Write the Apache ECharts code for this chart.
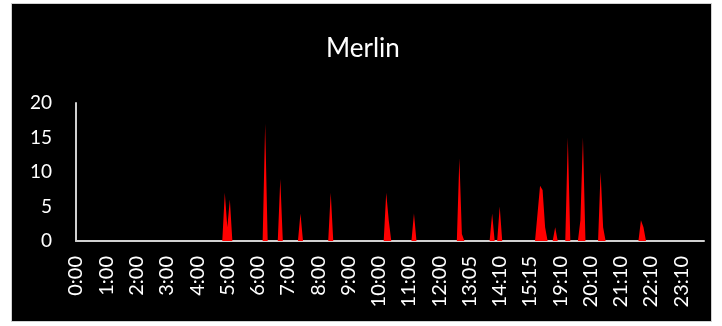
<!DOCTYPE html>
<html>
<head>
<meta charset="utf-8">
<script src="https://cdn.jsdelivr.net/npm/echarts@6/dist/echarts.min.js"></script>
<style>
  html, body { margin: 0; padding: 0; background: #ffffff; }
  #frame { position: absolute; left: 11px; top: 3px; width: 701px; height: 319px; box-sizing: border-box; background: #000000; border: 1px solid #d0d0d0; }
  #chart { position: absolute; left: 0; top: 0; width: 722px; height: 326px; }
</style>
</head>
<body>
<div id="frame"></div>
<div id="chart"></div>
<script>
// Title
const chartTitle = "Merlin";

// Time segments (5-minute samples, some times missing in the record)
const timeSegments = [
  ["0:00", 156],   // start, count
  ["13:05", 12],
  ["14:10", 12],
  ["15:15", 12],
  ["19:10", 58]
];

// Y-axis ticks
const yMin = 0, yMax = 20, yStep = 5;

// Values per 5-minute sample (rows of 12 samples)
const values = [
  0,0,0,0,0,0,0,0,0,0,0,0,
  0,0,0,0,0,0,0,0,0,0,0,0,
  0,0,0,0,0,0,0,0,0,0,0,0,
  0,0,0,0,0,0,0,0,0,0,0,0,
  0,0,0,0,0,0,0,0,0,0,0,7,
  2,6,0,0,0,0,0,0,0,0,0,0,
  0,0,0,17,0,0,0,0,0,9,0,0,
  0,0,0,0,0,4,0,0,0,0,0,0,
  0,0,0,0,0,7,0,0,0,0,0,0,
  0,0,0,0,0,0,0,0,0,0,0,0,
  0,0,0,7,3,0,0,0,0,0,0,0,
  0,0,4,0,0,0,0,0,0,0,0,0,
  0,0,0,0,0,0,0,0,12,1,0,0,
  0,0,0,0,0,0,0,0,0,4,0,0,
  5,0,0,0,0,0,0,0,0,0,0,0,
  0,0,0,4,8,7.4,2,0,0,0,2,0,
  0,0,0,15,0,0,0,0,3,15,0,0,
  0,0,0,0,10,2,0,0,0,0,0,0,
  0,0,0,0,0,0,0,0,3,2,0,0,
  0,0,0,0,0,0,0,0,0,0,0,0,
  0,0,0,0,0,0,0,0,0,0
];

function buildCategories(segs) {
  const out = [];
  segs.forEach(s => {
    const [h, m] = s[0].split(":").map(Number);
    let t = h * 60 + m;
    for (let i = 0; i < s[1]; i++) {
      const hh = Math.floor(t / 60), mm = t % 60;
      out.push(hh + ":" + (mm < 10 ? "0" : "") + mm);
      t += 5;
    }
  });
  return out;
}
const categories = buildCategories(timeSegments);

const FONT = "Lato, 'Open Sans', sans-serif";
const chart = echarts.init(document.getElementById("chart"), null, { renderer: "canvas" });
chart.setOption({
  backgroundColor: "transparent",
  animation: false,
  title: {
    text: chartTitle,
    left: 321,
    top: 31,
    textStyle: { color: "#ffffff", fontFamily: FONT, fontSize: 26, fontWeight: "normal" }
  },
  grid: { left: 76, right: 18, top: 103, bottom: 85, containLabel: false },
  xAxis: {
    type: "category",
    data: categories,
    boundaryGap: false,
    axisLine: { show: true, lineStyle: { color: "#d0d0d0", width: 2 } },
    axisTick: { show: false },
    splitLine: { show: false },
    axisLabel: {
      interval: 11,
      rotate: 90,
      margin: 15,
      color: "#ffffff",
      fontFamily: FONT,
      fontSize: 20
    }
  },
  yAxis: {
    type: "value",
    min: yMin,
    max: yMax,
    interval: yStep,
    axisLine: { show: true, lineStyle: { color: "#d0d0d0", width: 2 } },
    axisTick: { show: false },
    splitLine: { show: false },
    axisLabel: { color: "#ffffff", fontFamily: FONT, fontSize: 19, margin: 24 }
  },
  series: [{
    type: "line",
    data: values,
    symbol: "none",
    smooth: false,
    lineStyle: { width: 0, color: "#ff0000" },
    itemStyle: { color: "#ff0000" },
    areaStyle: { color: "#ff0000", opacity: 1 }
  }]
});
</script>
</body>
</html>
